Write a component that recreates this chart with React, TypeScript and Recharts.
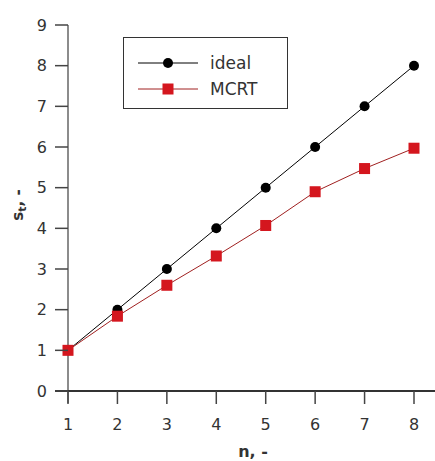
import { Line, LineChart, ReferenceLine, XAxis, YAxis, Label } from 'recharts';

const nValues = [1, 2, 3, 4, 5, 6, 7, 8];
const idealValues = [1, 2, 3, 4, 5, 6, 7, 8];
const mcrtValues = [1.0, 1.84, 2.6, 3.32, 4.07, 4.9, 5.47, 5.97];
const xTicks = [1, 2, 3, 4, 5, 6, 7, 8];
const yTicks = [0, 1, 2, 3, 4, 5, 6, 7, 8, 9];

const data = nValues.map((n, i) => ({ n, ideal: idealValues[i], mcrt: mcrtValues[i] }));

const FONT = "'DejaVu Sans', sans-serif";
const TEXT = '#333';
const RED = '#d4161e';

function YTick({ x, y, payload }: any) {
  return (
    <g>
      <line x1={x} x2={x + 13} y1={y} y2={y} stroke="#444" strokeWidth={1.5} />
      <text x={x - 8} y={y} textAnchor="end" dominantBaseline="central" fontSize={16} fill={TEXT} fontFamily={FONT}>
        {payload.value}
      </text>
    </g>
  );
}

function XTick({ x, y, payload }: any) {
  return (
    <g>
      <line x1={x} x2={x} y1={y - 12} y2={y + 1} stroke="#444" strokeWidth={1.5} />
      <text x={x} y={y + 21} textAnchor="middle" dominantBaseline="central" fontSize={16} fill={TEXT} fontFamily={FONT}>
        {payload.value}
      </text>
    </g>
  );
}

function SquareDot({ cx, cy }: any) {
  return <rect x={cx - 5.5} y={cy - 5.5} width={11} height={11} fill={RED} />;
}

// legend drawn as an overlay so it does not take space from the plot
function LegendBox() {
  const rows = [
    { label: 'ideal', color: '#000', marker: 'circle' },
    { label: 'MCRT', color: '#a02020', marker: 'square' },
  ];
  return (
    <div
      style={{
        position: 'absolute',
        left: 123,
        top: 37,
        width: 163,
        height: 70,
        border: '1.5px solid #333',
        background: '#fff',
        fontFamily: FONT,
      }}
    >
      {rows.map((r, i) => (
        <div key={r.label} style={{ position: 'absolute', left: 0, top: 12 + i * 26, height: 26, display: 'flex', alignItems: 'center' }}>
          <svg width={90} height={26}>
            <line x1={14} x2={74} y1={13} y2={13} stroke={r.color} strokeWidth={1} />
            {r.marker === 'circle' ? (
              <circle cx={44} cy={13} r={5} fill="#000" />
            ) : (
              <rect x={38.5} y={7.5} width={11} height={11} fill={RED} />
            )}
          </svg>
          <span style={{ fontSize: 17, color: TEXT, marginLeft: -4 }}>{r.label}</span>
        </div>
      ))}
    </div>
  );
}

export default function App() {
  return (
    <div style={{ position: 'absolute', left: 0, top: 0, width: 435, height: 461, background: '#fff' }}>
      <LineChart width={435} height={461} data={data} margin={{ top: 25, right: 0, bottom: 0, left: 0 }}>
        <XAxis
          dataKey="n"
          type="number"
          domain={[1, 8]}
          ticks={xTicks}
          padding={{ left: 13, right: 21 }}
          axisLine={false}
          tickLine={false}
          tickSize={0}
          tickMargin={0}
          height={58}
          tick={<XTick />}
        >
          <Label
            content={() => (
              <text x={253} y={457} textAnchor="middle" fontSize={16} fontWeight="bold" fill={TEXT} fontFamily={FONT}>
                n, -
              </text>
            )}
          />
        </XAxis>
        <YAxis
          type="number"
          domain={[0, 9]}
          ticks={yTicks}
          padding={{ top: 0, bottom: 12 }}
          axisLine={false}
          tickLine={false}
          tickSize={0}
          tickMargin={0}
          width={55}
          tick={<YTick />}
        >
          <Label
            content={() => (
              <text
                x={18}
                y={205}
                transform="rotate(-90, 18, 205)"
                textAnchor="middle"
                dominantBaseline="central"
                fontSize={15}
                fontWeight="bold"
                fill={TEXT}
                fontFamily={FONT}
              >
                s<tspan fontSize={11} dy={4}>t</tspan>
                <tspan dy={-4}>, -</tspan>
              </text>
            )}
          />
        </YAxis>
        <ReferenceLine x={1} stroke="#666" strokeWidth={1.5} />
        <ReferenceLine y={0} stroke="#333" strokeWidth={1.8} />
        <Line
          dataKey="ideal"
          name="ideal"
          stroke="#000"
          strokeWidth={1}
          dot={{ r: 5, fill: '#000', stroke: '#000', strokeWidth: 0 }}
          isAnimationActive={false}
        />
        <Line
          dataKey="mcrt"
          name="MCRT"
          stroke="#a02020"
          strokeWidth={1}
          dot={<SquareDot />}
          isAnimationActive={false}
        />
      </LineChart>
      <LegendBox />
    </div>
  );
}
